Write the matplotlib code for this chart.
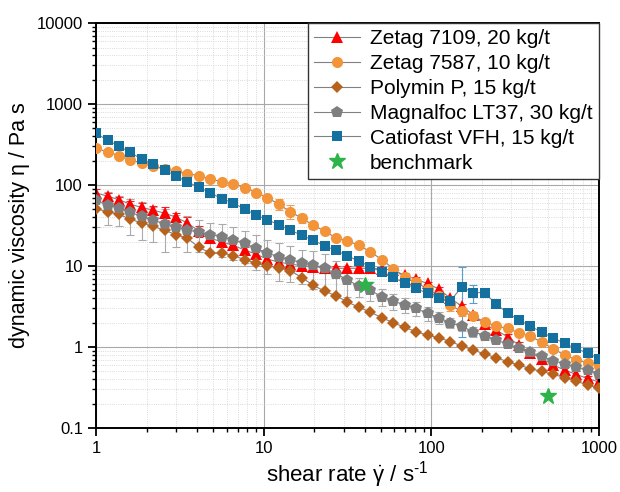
import matplotlib
matplotlib.use("Agg")
import matplotlib.pyplot as plt
from matplotlib.ticker import LogLocator, NullFormatter, FixedLocator, FixedFormatter

plt.rcParams['font.family'] = ['Liberation Sans', 'DejaVu Sans']
plt.rcParams['mathtext.fontset'] = 'custom'
plt.rcParams['mathtext.rm'] = 'Liberation Sans'
plt.rcParams['mathtext.it'] = 'Liberation Sans'

# shear rate steps of the flow curves (1/s)
shear_rate = [1.0, 1.17, 1.37, 1.6, 1.87, 2.19, 2.57, 3.0, 3.51, 4.11,
              4.81, 5.62, 6.58, 7.7, 9.01, 10.5, 12.3, 14.4, 16.9, 19.7,
              23.1, 27.0, 31.6, 37.0, 43.3, 50.7, 59.3, 69.3, 81.1, 94.9,
              111, 130, 152, 178, 208, 243, 285, 333, 390, 456,
              534, 624, 731, 855, 1000]

# dynamic viscosity (Pa s)
zetag7109 = [80, 73, 66, 58, 53, 49, 45, 40, 34, 27,
             22, 20, 18, 15.8, 14, 12.2, 11.2, 10.6, 10.1, 9.8,
             9.6, 9.4, 9.4, 9.4, 9.4, 9.2, 8.9, 7.7, 6.85, 6.1,
             5.2, 4.0, 3.2, 2.5, 1.9, 1.62, 1.34, 1.05, 0.85, 0.72,
             0.6, 0.52, 0.46, 0.41, 0.37]
zetag7109_err = [10, 8, 6, 6, 7, 6, 8, 5, 6, 4,
                 3, 2.5, 2, 1.5, 1.2, 1, 1, 0.8, 0.8, 0.6,
                 0.6, 0.5, 0.5, 0.5, 0.5, 0.5, 0.5, 0.4, 0.4, 0.3,
                 0.3, 0.3, 0.2, 0.2, 0.1, 0.1, 0.1, 0.1, 0.05, 0.05,
                 0.05, 0.05, 0.04, 0.03, 0.03]

zetag7587 = [284, 258, 230, 204, 187, 170, 158, 149, 139, 130,
             119, 110, 104, 93, 81, 70, 58, 47, 39, 32,
             27, 22.3, 20.5, 18, 15, 12, 9.3, 7.3, 6.3, 5.2,
             4.3, 3.3, 2.75, 2.4, 2.05, 1.82, 1.7, 1.5, 1.36, 1.15,
             0.95, 0.8, 0.7, 0.64, 0.58]
zetag7587_err = [0, 0, 0, 0, 0, 0, 0, 0, 0, 0,
                 0, 0, 0, 0, 4, 6, 9, 9, 5, 3,
                 2, 0, 0, 0, 0, 0, 0, 0, 0, 0,
                 0, 0.5, 0.3, 0, 0, 0, 0, 0, 0, 0,
                 0, 0, 0, 0, 0]

polymin = [51, 47, 43.5, 38, 34, 31, 27.5, 24.5, 22, 17,
           14.5, 14.5, 13.5, 12, 10.8, 10.1, 9.5, 8.8, 7.2, 5.8,
           4.9, 4.3, 3.6, 3.1, 2.7, 2.3, 2.0, 1.75, 1.55, 1.4,
           1.3, 1.17, 1.03, 0.92, 0.82, 0.74, 0.66, 0.6, 0.54, 0.5,
           0.46, 0.42, 0.38, 0.34, 0.31]

magnalfoc = [65, 57, 52, 46, 41, 37, 33, 30, 28, 26,
             24.5, 23, 21, 19, 16.5, 14.5, 13, 12, 11, 10.2,
             9.5, 8.0, 6.8, 5.6, 5.0, 4.2, 3.7, 3.3, 3.0, 2.6,
             2.3, 2.0, 1.8, 1.55, 1.38, 1.22, 1.09, 0.96, 0.86, 0.77,
             0.68, 0.62, 0.56, 0.52, 0.47]
magnalfoc_err = [35, 25, 21, 22, 20, 17, 18, 13, 13, 11,
                 10, 10, 9, 8, 7.5, 6.5, 6.5, 5.6, 5, 5,
                 4.5, 3.5, 2.7, 1.5, 1.3, 1.0, 0.8, 0.7, 0.6, 0.5,
                 0.4, 0.3, 0.2, 0.2, 0.15, 0.1, 0.1, 0.1, 0.05, 0.05,
                 0.05, 0.05, 0.05, 0.03, 0.03]

catiofast = [435, 359, 303, 253, 209, 180, 153, 129, 109, 94,
             80, 68, 60, 50.6, 42.6, 37.3, 32.4, 27.8, 23.9, 20.9,
             17.8, 15.6, 13.4, 11.5, 9.8, 8.4, 7.3, 6.1, 5.3, 4.6,
             4.0, 3.7, 5.55, 4.7, 4.7, 3.4, 2.65, 2.15, 1.82, 1.52,
             1.30, 1.11, 0.96, 0.84, 0.72]
catiofast_err = [0, 0, 0, 0, 0, 0, 0, 0, 0, 0,
                 0, 0, 0, 0, 0, 0, 0, 0, 0, 0,
                 0, 0, 0, 0, 0, 0, 0, 0, 0, 0,
                 0.3, 0.3, 4.2, 1.2, 0.6, 0.2, 0, 0, 0, 0,
                 0, 0, 0, 0, 0]

bench_rate = [40, 500]
bench_visc = [5.8, 0.25]

fig = plt.figure(figsize=(6.2, 4.92), dpi=100)
ax = fig.add_axes([0.155, 0.130, 0.811, 0.823])
ax.set_xscale('log')
ax.set_yscale('log')

# error bars first so the markers sit on top
ax.errorbar(shear_rate, zetag7109, yerr=zetag7109_err, fmt='none', ecolor='#ff2020',
            elinewidth=0.8, capsize=2.8, capthick=0.8, zorder=1)
ax.errorbar(shear_rate, zetag7587, yerr=zetag7587_err, fmt='none', ecolor='#f0a055',
            elinewidth=0.8, capsize=2.8, capthick=0.8, zorder=1)
ax.errorbar(shear_rate, magnalfoc, yerr=magnalfoc_err, fmt='none', ecolor='#aaaaaa',
            elinewidth=0.8, capsize=2.8, capthick=0.8, zorder=1)
ax.errorbar(shear_rate, catiofast, yerr=catiofast_err, fmt='none', ecolor='#5a9ccc',
            elinewidth=0.8, capsize=2.8, capthick=0.8, zorder=1)

line_kw = dict(color='#808080', lw=0.8, markeredgewidth=0)
ax.plot(shear_rate, zetag7109, marker='^', ms=8.5, mfc='#ff0000',
        label='Zetag 7109, 20 kg/t', zorder=2, **line_kw)
ax.plot(shear_rate, zetag7587, marker='o', ms=8, mfc='#f39439',
        label='Zetag 7587, 10 kg/t', zorder=3, **line_kw)
ax.plot(shear_rate, polymin, marker='D', ms=6.5, mfc='#b8621b',
        label='Polymin P, 15 kg/t', zorder=4, **line_kw)
ax.plot(shear_rate, magnalfoc, marker='p', ms=9, mfc='#7f7f7f',
        label='Magnalfoc LT37, 30 kg/t', zorder=5, **line_kw)
ax.plot(shear_rate, catiofast, marker='s', ms=6.8, mfc='#14709f',
        label='Catiofast VFH, 15 kg/t', zorder=6, **line_kw)
ax.plot(bench_rate, bench_visc, ls='none', marker='*', ms=12, color='#2db34a',
        mec='#2db34a', label='benchmark', zorder=7)

ax.set_xlim(1, 1000)
ax.set_ylim(0.1, 10000)

ax.xaxis.set_major_locator(FixedLocator([1, 10, 100, 1000]))
ax.xaxis.set_major_formatter(FixedFormatter(['1', '10', '100', '1000']))
ax.yaxis.set_major_locator(FixedLocator([0.1, 1, 10, 100, 1000, 10000]))
ax.yaxis.set_major_formatter(FixedFormatter(['0.1', '1', '10', '100', '1000', '10000']))
ax.xaxis.set_minor_locator(LogLocator(base=10, subs=range(2, 10)))
ax.yaxis.set_minor_locator(LogLocator(base=10, subs=range(2, 10)))
ax.xaxis.set_minor_formatter(NullFormatter())
ax.yaxis.set_minor_formatter(NullFormatter())

ax.tick_params(which='major', direction='out', length=6, width=1.3, labelsize=12)
ax.tick_params(which='minor', direction='out', length=3, width=1.0)
for s in ax.spines.values():
    s.set_linewidth(1.4)

ax.grid(which='major', color='#a8a8a8', lw=0.8)
ax.grid(which='minor', color='#cfcfcf', lw=0.6, ls=':')
ax.set_axisbelow(True)

ax.set_xlabel(r'shear rate $\dot{\gamma}$ / s$^{\text{-1}}$', fontsize=16, labelpad=2)
ax.set_ylabel('dynamic viscosity η / Pa s', fontsize=15.5, labelpad=5)

leg = ax.legend(loc='upper right', bbox_to_anchor=(1.0, 1.0), borderaxespad=0,
                fancybox=False, edgecolor='#333333', framealpha=1, fontsize=15,
                handlelength=2.2, handletextpad=0.5, labelspacing=0.28,
                borderpad=0.3)
leg.get_frame().set_linewidth(1.0)
leg.set_zorder(10)

fig.savefig('out.png', dpi=100)
